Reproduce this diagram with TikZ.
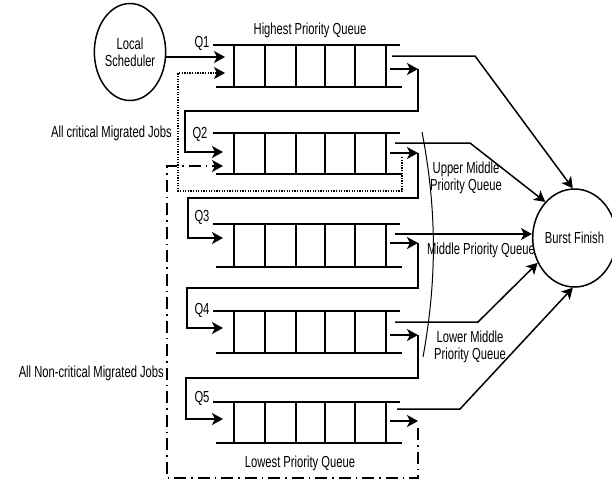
\documentclass[tikz,border=0pt]{standalone}
\usepackage{fontspec}
\setmainfont{Liberation Sans}[FakeStretch=0.7]
\usetikzlibrary{arrows.meta,shapes.geometric}
\begin{document}
\begin{tikzpicture}[x=1pt,y=-1pt,
  lbl/.style={font=\fontsize{16}{17}\selectfont, inner sep=0pt},
  qline/.style={line width=1.5pt},
  conn/.style={line width=1.5pt},
  arr/.style={-{Stealth[length=11pt,width=12pt,inset=3pt]}},
  dotline/.style={line width=1.3pt, dash pattern=on 1.3pt off 1.3pt},
  ddline/.style={line width=1.5pt, dash pattern=on 12pt off 5pt on 1.5pt off 5pt},
  thinline/.style={line width=1pt}
]
\useasboundingbox (0,0) rectangle (612,482);

% ellipses
\node[ellipse, draw, line width=1.5pt, minimum width=66pt, minimum height=97pt, inner sep=0pt, align=center, lbl] (ls) at (130,52) {Local\\Scheduler};
\node[ellipse, draw, line width=1.5pt, minimum width=69pt, minimum height=98pt, inner sep=0pt, lbl] (bf) at (574.5,238) {Burst Finish};

% queues
\foreach \t/\b in {45/87,133/174,224/267,311/353,402/443} {
  \draw[qline] (213,\t) -- (400,\t);
  \draw[qline] (216,\b) -- (402,\b);
  \foreach \x in {234,265,296,325,355,386} \draw[qline] (\x,\t) -- (\x,\b);
}

% labels
\node[lbl] (hpq) at (310,30) {Highest Priority Queue};
\node[lbl] (lpq) at (300,463) {Lowest Priority Queue};
\node[lbl, align=center] (umq) at (466,178) {Upper Middle\\Priority Queue};
\node[lbl] (mpq) at (481,250) {Middle Priority Queue};
\node[lbl, align=center] (lmq) at (470,347) {Lower Middle\\Priority Queue};
\node[lbl, anchor=east] (acj) at (172,133) {All critical Migrated Jobs};
\node[lbl, anchor=east] (anj) at (164,373) {All Non-critical Migrated Jobs};
\node[lbl] (lq1) at (202,43) {Q1};
\node[lbl] (lq2) at (200,134) {Q2};
\node[lbl] (lq3) at (202,217) {Q3};
\node[lbl] (lq4) at (202,310) {Q4};
\node[lbl] (lq5) at (202,398) {Q5};

% input coordinates
\coordinate (q1a) at (225,57);
\coordinate (q1b) at (225,73);
\coordinate (q2a) at (223,152);
\coordinate (q2b) at (223,166);
\coordinate (q3a) at (223,238);
\coordinate (q4a) at (223,328);
\coordinate (q5a) at (223,419);

% output arrow starts and tips
\foreach \i/\y in {1/69,2/153,3/243,4/335,5/421} {
  \coordinate (s\i) at (390,\y);
  \coordinate (t\i) at (418,\y);
}

% output lines to burst finish
\coordinate (o1) at (392,56);  \coordinate (k1) at (475,56);
\coordinate (o2) at (395,143); \coordinate (k2) at (470,143);
\coordinate (o3) at (395,234);
\coordinate (o4) at (395,322); \coordinate (k4) at (478,322);
\coordinate (o5) at (397,409); \coordinate (k5) at (460,409);

% scheduler to Q1
\draw[conn,arr] (ls.east |- q1a) -- (q1a);

% output arrows
\foreach \i in {1,...,5} \draw[conn,arr] (s\i) -- (t\i);

% demotion loops
\draw[conn,arr] (t1) |- ++(-233,42) |- (q2a);
\draw[conn,arr] (t2) |- ++(-230,45) |- (q3a);
\draw[conn,arr] (t3) |- ++(-231,45) |- (q4a);
\draw[conn,arr] (t4) |- ++(-232,43) |- (q5a);

% critical migrated jobs (dotted)
\coordinate (d0) at (402,157);
\draw[dotline,arr] (d0) |- (178,191) |- (q1b);

% non-critical migrated jobs (dash-dot)
\coordinate (e0) at (418,428);
\draw[ddline,arr] (e0) |- (167,478) |- (q2b);

% to burst finish
\draw[conn,arr] (o1) -- (k1) -- (bf.92);
\draw[conn,arr] (o2) -- (k2) -- (bf.129);
\draw[conn,arr] (o3) -- (bf.west |- o3);
\draw[conn,arr] (o4) -- (k4) -- (bf.214);
\draw[conn,arr] (o5) -- (k5) -- (bf.268);

% bracket arc
\coordinate (a0) at (422,132);
\coordinate (a1) at (423,357);
\draw[thinline] (a0) .. controls (437,210) and (437,280) .. (a1);
\end{tikzpicture}
\end{document}
